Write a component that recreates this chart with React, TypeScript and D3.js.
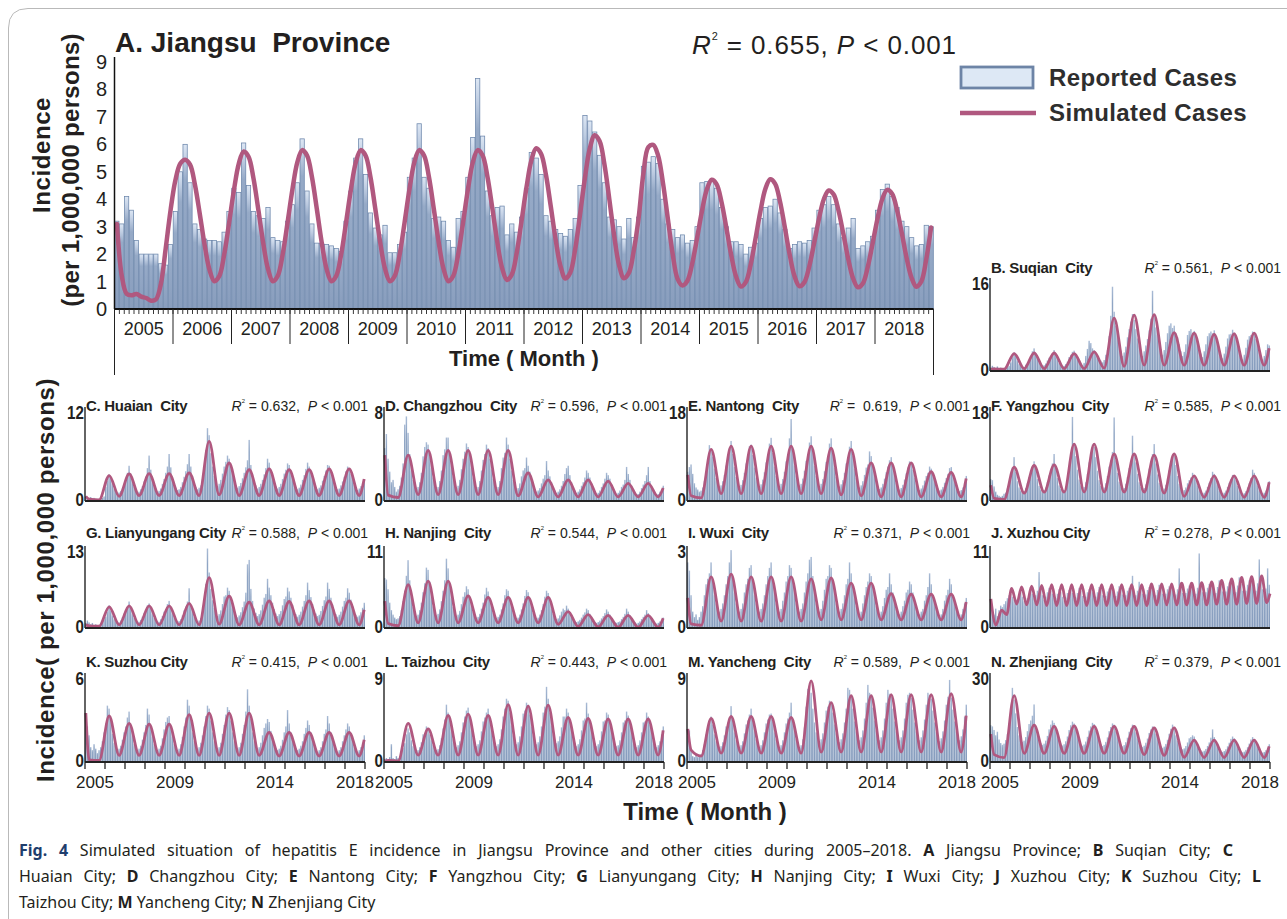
import React from "react";
import * as d3 from "d3";

// ---------------- DATA ----------------
const years = [2005, 2006, 2007, 2008, 2009, 2010, 2011, 2012, 2013, 2014, 2015, 2016, 2017, 2018];
const mainYTicks = [0, 1, 2, 3, 4, 5, 6, 7, 8, 9];
const smallTickYears = [2005, 2009, 2014, 2018];

const mainReported = [
  3.2, 3.1, 4.1, 3.6, 2.5, 2.0, 2.0, 2.0, 2.0, 1.65, 1.6, 2.35,
  3.55, 5.0, 6.0, 4.6, 3.1, 2.9, 2.55, 2.5, 2.5, 2.45, 2.8, 3.55,
  4.4, 4.25, 6.05, 4.5, 3.55, 3.4, 3.3, 3.7, 2.6, 2.5, 2.45, 3.2,
  3.8, 4.6, 6.2, 4.3, 3.1, 2.4, 2.4, 2.35, 2.3, 2.2, 2.1, 3.2,
  4.3, 5.5, 6.2, 4.9, 3.5, 2.95, 2.7, 3.05, 2.05, 2.05, 2.35, 2.8,
  4.8, 5.5, 6.75, 4.8, 4.4, 3.3, 3.35, 3.2, 2.5, 2.25, 3.3, 3.55,
  4.8, 6.25, 8.4, 6.3, 4.3, 3.4, 3.7, 3.75, 2.7, 3.1, 2.8, 3.35,
  4.4, 5.7, 5.5, 4.9, 3.4, 3.2, 2.9, 2.75, 2.65, 2.9, 3.3, 4.5,
  7.05, 6.85, 6.45, 5.6, 4.6, 3.35, 3.25, 3.0, 2.55, 3.3, 2.6, 3.35,
  5.2, 5.35, 5.55, 5.3, 4.0, 3.1, 2.9, 2.6, 2.7, 2.4, 2.5, 3.0,
  4.6, 4.65, 4.65, 4.4, 3.7, 3.0, 2.45, 2.45, 2.35, 2.0, 2.25, 2.4,
  3.3, 3.7, 3.75, 4.0, 3.5, 2.9, 2.2, 2.35, 2.45, 2.4, 2.5, 2.95,
  3.6, 3.8, 4.1, 3.8, 3.1, 2.6, 2.95, 3.3, 2.2, 2.3, 2.45, 2.65,
  3.6, 4.35, 4.55, 4.1, 3.7, 3.2, 3.0, 2.6, 2.3, 2.35, 3.05, 3.0,
];

const mainSimulated = [
  3.1, 1.2, 0.55, 0.5, 0.55, 0.45, 0.4, 0.3, 0.35, 0.9, 2.2, 3.6,
  4.7, 5.3, 5.44, 5.26, 4.53, 3.46, 2.32, 1.42, 1.01, 1.2, 1.98, 3.13,
  4.33, 5.3, 5.74, 5.55, 4.77, 3.62, 2.41, 1.45, 1.01, 1.21, 1.99, 3.15,
  4.36, 5.34, 5.79, 5.59, 4.81, 3.65, 2.43, 1.46, 1.01, 1.21, 1.99, 3.15,
  4.36, 5.34, 5.79, 5.59, 4.81, 3.65, 2.43, 1.46, 1.01, 1.21, 1.99, 3.15,
  4.36, 5.34, 5.79, 5.59, 4.81, 3.65, 2.43, 1.46, 1.01, 1.21, 1.99, 3.15,
  4.36, 5.34, 5.79, 5.6, 4.82, 3.67, 2.46, 1.5, 1.06, 1.26, 2.04, 3.21,
  4.42, 5.41, 5.86, 5.66, 4.89, 3.73, 2.52, 1.55, 1.11, 1.33, 2.18, 3.45,
  4.78, 5.85, 6.33, 6.12, 5.27, 4.0, 2.66, 1.6, 1.12, 1.31, 2.11, 3.3,
  4.95, 5.9, 5.98, 5.6, 4.6, 3.3, 2.0, 1.1, 0.86, 1.02, 1.65, 2.58,
  3.56, 4.35, 4.71, 4.55, 3.91, 2.97, 1.97, 1.18, 0.82, 0.98, 1.62, 2.57,
  3.56, 4.37, 4.73, 4.57, 3.93, 2.98, 1.98, 1.19, 0.83, 0.97, 1.54, 2.39,
  3.28, 4.0, 4.32, 4.18, 3.6, 2.74, 1.83, 1.12, 0.79, 0.93, 1.52, 2.38,
  3.28, 4.01, 4.34, 4.2, 3.62, 2.76, 1.85, 1.14, 0.81, 1.0, 1.8, 2.97,
];

// small panels: B..N
const panelKeys = ["B", "C", "D", "E", "F", "G", "H", "I", "J", "K", "L", "M", "N"];
const panelTitles = [
  "B. Suqian  City", "C. Huaian  City", "D. Changzhou  City", "E. Nantong  City",
  "F. Yangzhou  City", "G. Lianyungang City", "H. Nanjing  City", "I. Wuxi  City",
  "J. Xuzhou City", "K. Suzhou City", "L. Taizhou  City", "M. Yancheng  City", "N. Zhenjiang  City",
];
const panelR2 = ["0.561", "0.632", "0.596", "0.619", "0.585", "0.588", "0.544", "0.371", "0.278", "0.415", "0.443", "0.589", "0.379"];
const panelYMax = [16, 12, 8, 18, 18, 13, 11, 3, 11, 6, 9, 9, 30];

const suqianReported = [
  0.6, 0.9, 0.7, 0.5, 0.8, 0.4, 0.6, 0.3, 0.5, 0.4, 0.7, 0.9,
  1.5, 2.4, 3.2, 2.6, 1.8, 1.2, 1.0, 0.8, 0.7, 1.1, 1.4, 1.9,
  2.6, 3.4, 3.9, 3.0, 2.2, 1.6, 1.1, 0.9, 1.0, 1.3, 1.8, 2.3,
  2.5, 3.1, 3.6, 2.7, 2.0, 1.4, 1.2, 0.8, 0.9, 1.2, 1.6, 2.4,
  2.8, 3.3, 3.5, 2.9, 2.1, 1.7, 1.3, 1.0, 1.4, 2.6, 3.8, 5.2,
  4.8, 3.9, 3.6, 3.0, 2.4, 2.0, 1.8, 1.5, 1.9, 2.8, 3.6, 6.0,
  9.5, 14.5, 10.2, 7.8, 6.0, 4.5, 3.5, 2.6, 3.2, 4.2, 5.8, 7.2,
  8.5, 9.8, 8.8, 7.2, 5.6, 4.4, 3.4, 2.6, 3.4, 4.4, 5.5, 7.0,
  9.0, 13.8, 9.5, 7.5, 6.2, 5.0, 3.8, 2.8, 3.6, 5.0, 6.5, 7.8,
  8.2, 7.4, 7.8, 6.5, 5.8, 4.6, 3.4, 2.6, 3.3, 4.6, 6.2, 6.9,
  7.2, 6.6, 6.9, 6.0, 5.2, 4.0, 3.0, 2.4, 3.4, 4.6, 6.0, 6.5,
  6.8, 6.5, 7.0, 5.9, 5.0, 3.8, 2.8, 2.2, 3.0, 4.2, 5.6, 6.3,
  6.4, 7.1, 6.6, 5.7, 4.8, 3.6, 2.6, 2.0, 2.8, 4.0, 5.4, 6.0,
  6.2, 6.8, 6.5, 5.5, 4.6, 3.4, 2.5, 2.0, 2.6, 3.6, 4.6, 4.4,
];
const suqianSimPeaks = [0.35, 3.0, 3.1, 3.1, 3.0, 3.3, 9.1, 9.6, 9.7, 6.6, 6.5, 6.3, 6.4, 6.5];
const suqianSimTroughs = [0.3, 0.4, 0.4, 0.4, 0.4, 0.5, 0.8, 1.0, 1.0, 1.0, 1.0, 1.0, 1.0, 1.0];
const suqianSimStartEnd = [0.3, 3.9];

const huaianReported = [
  0.6, 0.5, 0.4, 0.5, 0.3, 0.4, 0.3, 0.2, 0.3, 0.2, 0.4, 0.6,
  1.8, 2.6, 3.4, 3.0, 2.2, 1.6, 1.2, 1.0, 1.1, 1.3, 1.6, 2.2,
  2.8, 3.6, 4.5, 3.5, 2.6, 1.8, 1.3, 1.1, 1.2, 1.5, 1.9, 2.5,
  3.1, 4.2, 5.8, 4.0, 2.8, 2.0, 1.6, 1.2, 1.3, 1.6, 2.2, 2.8,
  3.6, 4.4, 6.0, 4.3, 3.0, 2.1, 1.7, 1.4, 1.5, 1.8, 2.4, 3.1,
  3.8, 4.7, 6.0, 4.4, 3.2, 2.3, 1.8, 1.5, 1.7, 2.0, 2.8, 4.4,
  6.5, 9.3, 8.4, 6.1, 4.4, 3.2, 2.4, 1.9, 2.2, 2.7, 3.5, 4.4,
  5.0, 5.8, 5.4, 4.5, 3.5, 2.6, 2.0, 1.7, 1.9, 2.3, 2.9, 3.6,
  4.3, 5.2, 7.8, 4.6, 3.4, 2.5, 2.0, 1.6, 1.8, 2.2, 2.7, 3.4,
  4.2, 5.4, 4.9, 4.0, 3.1, 2.4, 1.9, 1.6, 1.8, 2.2, 2.8, 3.5,
  4.0, 4.8, 4.6, 3.9, 3.0, 2.3, 1.8, 1.5, 1.7, 2.1, 2.7, 3.3,
  4.1, 4.9, 4.4, 3.8, 3.0, 2.2, 1.8, 1.5, 1.7, 2.0, 2.6, 3.2,
  3.9, 4.6, 4.5, 3.7, 2.9, 2.2, 1.7, 1.5, 1.6, 2.0, 2.5, 3.1,
  3.8, 4.4, 4.2, 3.5, 2.8, 2.1, 1.7, 1.4, 1.6, 1.9, 2.2, 2.6,
];
const huaianSimPeaks = [0.25, 3.25, 3.45, 3.5, 3.5, 3.6, 7.6, 4.85, 4.0, 4.1, 4.0, 4.0, 4.1, 4.1];
const huaianSimTroughs = [0.15, 0.6, 0.7, 0.7, 0.7, 0.7, 0.8, 0.7, 0.7, 0.7, 0.7, 0.7, 0.7, 0.7];
const huaianSimStartEnd = [0.6, 2.8];

const changzhouReported = [
  4.5, 5.7, 3.6, 2.5, 1.6, 1.8, 1.2, 0.8, 1.0, 1.3, 2.0, 3.2,
  6.5, 7.2, 5.8, 4.0, 2.6, 1.8, 1.3, 1.0, 1.2, 1.6, 2.4, 3.8,
  4.6, 5.0, 4.8, 3.8, 2.8, 2.0, 1.4, 1.0, 1.2, 1.7, 2.6, 3.9,
  4.4, 5.4, 5.4, 4.1, 3.0, 2.1, 1.4, 1.1, 1.3, 1.8, 2.7, 3.6,
  4.2, 4.9, 4.6, 3.9, 2.8, 2.0, 1.3, 1.0, 1.2, 1.7, 2.6, 3.5,
  4.0, 4.8, 4.5, 3.6, 2.7, 1.9, 1.3, 1.0, 1.2, 1.7, 2.8, 3.7,
  4.1, 5.4, 4.8, 3.6, 2.6, 1.8, 1.2, 0.9, 1.1, 1.5, 2.1, 2.6,
  2.8, 3.7, 3.0, 2.5, 1.8, 1.3, 1.0, 0.8, 0.9, 1.1, 1.5, 1.9,
  2.2, 3.4, 2.6, 2.1, 1.6, 1.2, 0.9, 0.7, 0.8, 1.0, 1.3, 1.7,
  2.3, 2.8, 3.0, 2.2, 1.6, 1.2, 0.9, 0.7, 0.8, 1.0, 1.3, 1.6,
  2.0, 2.6, 2.4, 2.0, 1.5, 1.1, 0.8, 0.6, 0.7, 0.9, 1.2, 1.5,
  1.9, 2.4, 2.2, 1.9, 1.4, 1.0, 0.8, 0.6, 0.7, 0.9, 1.2, 1.4,
  1.8, 2.9, 2.3, 1.8, 1.3, 1.0, 0.7, 0.6, 0.6, 0.8, 1.1, 1.4,
  1.7, 2.2, 2.9, 1.7, 1.2, 0.9, 0.7, 0.5, 0.6, 0.8, 1.0, 1.3,
];
const changzhouSimPeaks = [0.5, 3.9, 4.3, 4.3, 4.3, 4.3, 4.3, 2.4, 1.8, 1.8, 1.8, 1.7, 1.5, 1.5];
const changzhouSimTroughs = [0.3, 0.55, 0.55, 0.55, 0.55, 0.55, 0.45, 0.35, 0.35, 0.35, 0.35, 0.35, 0.35, 0.35];
const changzhouSimStartEnd = [3.9, 1.1];

const nantongReported = [
  5.6, 6.5, 7.0, 5.2, 3.4, 2.6, 2.2, 1.8, 2.0, 2.6, 3.8, 5.2,
  7.8, 10.7, 10.0, 8.5, 6.2, 4.4, 3.4, 2.6, 3.0, 3.8, 5.0, 6.8,
  8.5, 10.2, 11.5, 9.0, 6.5, 4.6, 3.5, 2.8, 3.1, 4.0, 5.4, 7.2,
  8.2, 10.5, 10.8, 8.8, 6.4, 4.5, 3.5, 2.8, 3.2, 4.1, 5.5, 7.4,
  8.8, 11.0, 12.1, 9.2, 6.6, 4.8, 3.6, 2.9, 3.3, 4.2, 5.6, 7.6,
  9.0, 12.0, 15.7, 9.6, 6.8, 4.9, 3.7, 3.0, 3.3, 4.3, 5.8, 7.7,
  8.9, 11.2, 12.4, 9.4, 6.7, 4.8, 3.6, 2.9, 3.3, 4.2, 5.7, 7.5,
  8.6, 11.0, 12.0, 9.0, 6.4, 4.6, 3.5, 2.8, 3.2, 4.0, 5.4, 7.2,
  8.4, 10.4, 11.5, 8.7, 6.2, 4.4, 3.3, 2.6, 3.0, 3.8, 5.0, 6.4,
  7.0, 9.5, 8.6, 6.8, 5.0, 3.7, 2.8, 2.3, 2.6, 3.3, 4.3, 5.5,
  6.6, 7.8, 8.4, 6.4, 4.8, 3.5, 2.7, 2.2, 2.5, 3.1, 4.1, 5.3,
  6.4, 7.6, 7.2, 6.0, 4.5, 3.4, 2.6, 2.1, 2.4, 3.0, 3.9, 4.8,
  5.4, 6.6, 6.2, 5.1, 3.9, 3.0, 2.4, 2.0, 2.2, 2.7, 3.5, 4.4,
  5.2, 6.3, 6.5, 4.9, 3.8, 2.9, 2.3, 1.9, 2.1, 2.6, 3.4, 4.8,
];
const nantongSimPeaks = [1.0, 9.9, 10.5, 10.5, 10.5, 10.5, 10.5, 10.1, 9.9, 7.3, 7.3, 7.3, 5.6, 5.5];
const nantongSimTroughs = [0.6, 1.4, 1.4, 1.4, 1.4, 1.4, 1.4, 1.2, 1.0, 0.8, 0.8, 0.8, 0.8, 0.8];
const nantongSimStartEnd = [5.0, 4.3];

const yangzhouReported = [
  4.2, 4.0, 2.8, 1.8, 1.2, 1.0, 0.8, 1.0, 1.4, 1.6, 2.4, 3.4,
  4.8, 6.4, 8.4, 5.6, 3.8, 2.6, 2.0, 1.7, 1.9, 2.5, 3.4, 4.6,
  5.4, 6.6, 7.6, 6.4, 4.2, 2.9, 2.2, 1.8, 2.0, 2.6, 3.6, 4.9,
  5.6, 7.2, 9.0, 6.6, 4.4, 3.0, 2.3, 1.9, 2.1, 2.8, 4.0, 6.0,
  8.4, 16.1, 11.0, 8.6, 6.0, 4.1, 3.0, 2.4, 2.7, 3.6, 5.2, 7.4,
  9.0, 10.8, 10.4, 8.4, 5.8, 4.0, 2.9, 2.3, 2.6, 3.4, 4.8, 6.6,
  7.8, 9.4, 16.0, 7.8, 5.4, 3.7, 2.8, 2.2, 2.5, 3.3, 4.6, 6.3,
  7.6, 12.5, 9.0, 7.4, 5.2, 3.6, 2.7, 2.2, 2.5, 3.2, 4.5, 6.2,
  7.6, 9.0, 10.9, 7.2, 5.1, 3.5, 2.6, 2.1, 2.4, 3.1, 4.3, 5.9,
  7.4, 8.8, 8.6, 6.9, 4.8, 3.3, 2.4, 1.9, 2.1, 2.6, 3.4, 4.0,
  4.5, 5.4, 5.0, 4.1, 3.0, 2.2, 1.7, 1.4, 1.6, 2.0, 2.7, 3.5,
  4.4, 5.6, 5.2, 4.2, 3.1, 2.3, 1.7, 1.4, 1.6, 2.0, 2.7, 3.5,
  4.2, 5.0, 4.8, 4.0, 2.9, 2.1, 1.6, 1.3, 1.5, 1.9, 2.6, 3.4,
  4.4, 6.0, 5.4, 4.2, 3.0, 2.2, 1.7, 1.4, 1.6, 2.0, 2.8, 3.8,
];
const yangzhouSimPeaks = [0.5, 6.5, 6.8, 6.9, 10.9, 10.9, 9.0, 9.0, 8.8, 9.0, 4.8, 4.8, 4.8, 4.8];
const yangzhouSimTroughs = [0.3, 1.5, 1.7, 1.7, 1.7, 1.7, 1.7, 1.7, 1.5, 0.9, 0.7, 0.7, 0.7, 0.7];
const yangzhouSimStartEnd = [3.0, 3.6];

const lianyungangReported = [
  0.8, 1.2, 0.9, 0.6, 0.8, 0.5, 0.6, 0.4, 0.5, 0.6, 0.9, 1.4,
  1.8, 2.6, 3.6, 2.8, 2.0, 1.4, 1.0, 0.8, 0.9, 1.2, 1.7, 2.3,
  2.6, 3.3, 4.2, 3.2, 2.2, 1.6, 1.1, 0.9, 1.0, 1.3, 1.8, 2.4,
  2.8, 3.6, 3.9, 3.1, 2.2, 1.6, 1.1, 0.9, 1.0, 1.4, 1.9, 2.6,
  3.0, 3.8, 4.3, 3.3, 2.3, 1.7, 1.2, 0.9, 1.1, 1.4, 2.0, 2.8,
  3.4, 4.2, 6.3, 3.6, 2.6, 1.8, 1.3, 1.0, 1.2, 1.6, 2.4, 4.6,
  7.0, 12.6, 8.8, 6.2, 4.4, 3.2, 2.4, 1.9, 2.2, 2.8, 3.8, 5.0,
  5.2, 6.4, 5.9, 4.8, 3.6, 2.7, 2.1, 1.7, 2.0, 2.5, 3.3, 4.2,
  5.6, 10.1, 10.8, 6.2, 4.3, 3.1, 2.4, 1.9, 2.2, 2.8, 3.7, 4.8,
  5.4, 7.8, 6.4, 5.2, 4.0, 3.0, 2.3, 1.9, 2.2, 2.7, 3.6, 4.6,
  5.0, 6.4, 5.8, 4.8, 3.7, 2.8, 2.2, 1.8, 2.1, 2.6, 3.4, 4.3,
  5.2, 7.2, 6.0, 4.9, 3.8, 2.9, 2.3, 1.9, 2.1, 2.7, 3.5, 4.4,
  5.0, 7.2, 6.2, 4.8, 3.7, 2.9, 2.2, 1.8, 2.1, 2.6, 3.4, 4.3,
  4.8, 6.3, 5.6, 4.5, 3.5, 2.7, 2.1, 1.8, 2.0, 2.5, 3.2, 4.0,
];
const lianyungangSimPeaks = [0.35, 3.35, 3.5, 3.5, 3.5, 3.9, 8.0, 5.05, 4.1, 4.3, 4.2, 4.3, 4.3, 4.3];
const lianyungangSimTroughs = [0.3, 0.5, 0.5, 0.5, 0.5, 0.5, 0.6, 0.5, 0.5, 0.5, 0.5, 0.5, 0.5, 0.5];
const lianyungangSimStartEnd = [0.5, 2.9];

const nanjingReported = [
  6.7, 6.5, 5.2, 3.4, 2.4, 1.8, 1.4, 1.2, 1.3, 1.6, 2.4, 3.6,
  5.0, 7.0, 9.1, 6.4, 4.2, 2.8, 2.0, 1.6, 1.8, 2.4, 3.4, 4.8,
  6.0, 8.1, 7.8, 6.2, 4.2, 2.9, 2.1, 1.7, 1.9, 2.5, 3.6, 5.0,
  6.4, 9.3, 8.0, 6.0, 4.0, 2.8, 2.0, 1.6, 1.8, 2.3, 3.2, 4.2,
  4.8, 5.6, 5.2, 4.2, 3.0, 2.2, 1.7, 1.4, 1.5, 1.9, 2.6, 3.4,
  4.5, 5.4, 4.9, 4.0, 2.9, 2.1, 1.6, 1.3, 1.5, 1.8, 2.5, 3.3,
  4.4, 5.2, 5.0, 3.9, 2.8, 2.1, 1.6, 1.3, 1.4, 1.8, 2.5, 3.3,
  4.3, 5.1, 4.8, 3.8, 2.8, 2.0, 1.5, 1.3, 1.4, 1.8, 2.4, 3.2,
  4.2, 5.0, 4.7, 3.6, 2.6, 1.9, 1.5, 1.2, 1.3, 1.7, 2.2, 2.6,
  2.4, 3.0, 2.6, 2.1, 1.6, 1.2, 0.9, 0.8, 0.9, 1.1, 1.4, 1.8,
  2.1, 2.6, 2.4, 1.9, 1.4, 1.1, 0.8, 0.7, 0.8, 1.0, 1.3, 1.6,
  2.0, 2.5, 2.2, 1.8, 1.3, 1.0, 0.8, 0.7, 0.8, 0.9, 1.2, 1.5,
  1.9, 2.6, 2.2, 1.7, 1.3, 1.0, 0.8, 0.6, 0.7, 0.9, 1.2, 1.5,
  1.8, 2.4, 2.0, 1.6, 1.2, 0.9, 0.7, 0.6, 0.7, 0.9, 1.1, 1.4,
];
const nanjingSimPeaks = [0.6, 5.8, 6.3, 6.3, 4.3, 4.1, 4.1, 4.1, 4.1, 2.2, 1.8, 1.7, 1.7, 1.7];
const nanjingSimTroughs = [0.3, 0.7, 0.7, 0.7, 0.7, 0.7, 0.7, 0.7, 0.5, 0.2, 0.15, 0.1, 0.1, 0.1];
const nanjingSimStartEnd = [3.6, 1.3];

const wuxiReported = [
  2.4, 2.1, 1.2, 0.6, 0.4, 0.5, 0.3, 0.4, 0.6, 0.8, 1.2, 1.6,
  1.8, 2.0, 2.4, 1.8, 1.2, 0.9, 0.7, 0.6, 0.7, 0.9, 1.2, 1.6,
  1.9, 2.4, 2.85, 1.9, 1.3, 0.9, 0.7, 0.6, 0.7, 0.9, 1.3, 1.6,
  1.8, 2.2, 2.3, 1.8, 1.2, 0.9, 0.7, 0.6, 0.7, 0.9, 1.2, 1.6,
  1.9, 2.2, 2.4, 1.8, 1.3, 0.9, 0.7, 0.6, 0.7, 1.0, 1.3, 1.7,
  1.9, 2.3, 2.2, 1.7, 1.3, 0.9, 0.7, 0.6, 0.7, 0.9, 1.3, 1.7,
  2.0, 2.5, 2.6, 1.9, 1.3, 0.9, 0.7, 0.6, 0.7, 1.0, 1.4, 1.8,
  1.9, 2.3, 2.2, 1.8, 1.2, 0.9, 0.7, 0.6, 0.7, 0.9, 1.2, 1.6,
  1.8, 2.4, 2.0, 1.6, 1.2, 0.8, 0.6, 0.5, 0.6, 0.9, 1.2, 1.5,
  1.7, 2.0, 1.9, 1.5, 1.1, 0.8, 0.6, 0.5, 0.6, 0.8, 1.1, 1.4,
  1.5, 2.0, 1.6, 1.3, 1.0, 0.7, 0.6, 0.5, 0.6, 0.8, 1.0, 1.3,
  1.4, 1.7, 1.6, 1.3, 0.9, 0.7, 0.5, 0.5, 0.6, 0.7, 1.0, 1.2,
  1.5, 2.0, 1.6, 1.2, 0.9, 0.7, 0.5, 0.4, 0.5, 0.7, 1.0, 1.2,
  1.4, 1.8, 1.6, 1.2, 0.9, 0.7, 0.5, 0.4, 0.5, 0.7, 0.9, 1.1,
];
const wuxiSimPeaks = [0.15, 1.87, 1.97, 1.87, 1.87, 1.87, 1.8, 1.83, 1.64, 1.64, 1.26, 1.24, 1.24, 1.24];
const wuxiSimTroughs = [0.1, 0.25, 0.25, 0.25, 0.25, 0.25, 0.3, 0.3, 0.3, 0.3, 0.3, 0.3, 0.3, 0.3];
const wuxiSimStartEnd = [1.1, 0.95];

const xuzhouReported = [
  3.4, 2.2, 1.8, 2.6, 1.6, 2.4, 3.0, 2.8, 3.2, 3.6, 4.0, 4.4,
  4.6, 4.2, 3.8, 3.4, 3.9, 4.4, 4.8, 4.2, 3.6, 3.4, 4.0, 4.6,
  5.2, 4.6, 4.0, 4.4, 5.0, 7.5, 5.2, 4.4, 3.8, 4.2, 4.8, 5.4,
  5.0, 4.6, 4.1, 4.0, 4.6, 5.2, 4.8, 4.2, 3.7, 4.1, 4.7, 5.1,
  5.2, 4.7, 4.2, 4.1, 4.7, 5.4, 5.0, 4.3, 3.8, 4.2, 4.8, 5.2,
  5.4, 4.8, 4.3, 4.2, 4.8, 5.5, 5.1, 4.4, 3.9, 4.3, 4.9, 5.3,
  5.5, 4.9, 4.4, 4.3, 4.9, 5.6, 5.2, 4.5, 4.0, 4.4, 5.0, 5.4,
  5.6, 7.0, 4.5, 4.4, 5.0, 6.2, 5.3, 4.6, 4.1, 4.5, 5.1, 5.5,
  5.7, 5.1, 4.6, 4.4, 5.1, 5.8, 5.4, 4.6, 4.1, 4.6, 5.2, 5.6,
  5.8, 5.2, 4.7, 4.5, 5.2, 8.0, 5.5, 4.7, 4.2, 4.7, 5.3, 5.7,
  6.0, 5.3, 4.8, 4.6, 5.4, 10.0, 5.6, 4.8, 4.3, 4.8, 5.4, 5.9,
  6.1, 5.4, 4.9, 4.7, 5.5, 6.4, 5.7, 4.9, 4.4, 4.9, 5.6, 6.1,
  6.3, 5.6, 5.0, 4.8, 5.7, 6.8, 5.9, 5.0, 4.5, 5.0, 5.8, 6.4,
  6.6, 5.8, 5.2, 5.0, 6.0, 9.2, 6.2, 5.2, 4.7, 5.3, 8.0, 5.8,
];
// Xuzhou simulation is semi-annual: lead-in values, then 26 half-year peaks and troughs
const xuzhouSimLead = [3.9, 0.4, 2.4, 1.8];
const xuzhouSimPeaks = [5.3, 5.5, 5.6, 5.7, 5.8, 5.8, 5.8, 5.8, 5.8, 5.8, 5.8, 5.8, 5.8, 5.8, 5.9, 5.9, 5.9, 6.0, 6.0, 6.1, 6.2, 6.4, 6.6, 6.8, 6.9, 7.0];
const xuzhouSimTroughs = [3.2, 3.1, 3.1, 3.0, 3.0, 3.0, 3.0, 3.0, 3.0, 3.0, 3.0, 3.0, 3.0, 3.0, 3.1, 3.1, 3.1, 3.1, 3.1, 3.1, 3.2, 3.2, 3.2, 3.3, 3.3, 3.4];
const xuzhouSimEnd = 4.6;

const suzhouReported = [
  2.6, 2.4, 1.8, 1.0, 0.8, 1.2, 0.9, 0.6, 0.8, 1.0, 1.4, 2.0,
  2.6, 3.8, 3.6, 2.8, 1.9, 1.3, 1.0, 0.8, 0.9, 1.1, 1.5, 2.0,
  2.4, 3.0, 3.4, 2.5, 1.8, 1.2, 0.9, 0.8, 0.9, 1.1, 1.5, 2.0,
  2.5, 3.6, 3.2, 2.4, 1.7, 1.2, 0.9, 0.8, 0.9, 1.1, 1.6, 2.2,
  2.7, 3.0, 3.1, 2.4, 1.7, 1.2, 0.9, 0.8, 0.9, 1.2, 1.7, 2.4,
  3.0, 4.2, 3.8, 2.9, 2.0, 1.4, 1.0, 0.9, 1.0, 1.3, 1.8, 2.4,
  3.1, 3.8, 3.6, 2.8, 2.0, 1.4, 1.0, 0.9, 1.0, 1.3, 1.9, 2.5,
  3.2, 3.7, 3.5, 2.8, 2.0, 1.4, 1.0, 0.9, 1.0, 1.3, 1.9, 2.5,
  3.4, 4.9, 3.8, 2.9, 2.0, 1.4, 1.0, 0.9, 1.0, 1.3, 1.8, 2.3,
  2.6, 2.9, 2.7, 2.1, 1.6, 1.2, 0.9, 0.8, 0.9, 1.1, 1.5, 2.0,
  2.4, 3.5, 2.6, 2.0, 1.5, 1.1, 0.9, 0.8, 0.9, 1.1, 1.4, 1.9,
  2.3, 2.8, 2.5, 2.0, 1.5, 1.1, 0.8, 0.7, 0.8, 1.0, 1.4, 1.9,
  2.2, 3.1, 2.6, 2.0, 1.5, 1.1, 0.8, 0.7, 0.8, 1.0, 1.4, 1.8,
  2.2, 2.6, 2.4, 1.9, 1.4, 1.0, 0.8, 0.7, 0.8, 1.0, 1.3, 1.8,
];
const suzhouSimPeaks = [0.15, 3.1, 2.6, 2.55, 2.55, 3.2, 3.3, 3.3, 3.3, 2.0, 2.0, 2.0, 2.0, 2.0];
const suzhouSimTroughs = [0.1, 0.45, 0.45, 0.45, 0.45, 0.45, 0.45, 0.45, 0.45, 0.4, 0.4, 0.4, 0.4, 0.4];
const suzhouSimStartEnd = [3.3, 1.5];

const taizhouReported = [
  0.3, 0.4, 0.2, 0.5, 1.8, 0.4, 0.3, 0.6, 0.4, 0.6, 0.9, 1.4,
  1.9, 2.8, 3.4, 3.0, 2.2, 1.6, 1.3, 1.1, 1.2, 1.5, 2.0, 2.8,
  2.9, 3.6, 3.4, 2.8, 2.2, 1.7, 1.4, 1.2, 1.3, 1.7, 2.4, 3.4,
  4.3, 5.8, 5.0, 4.2, 3.1, 2.3, 1.8, 1.5, 1.7, 2.1, 3.0, 4.0,
  4.6, 5.2, 5.5, 4.4, 3.2, 2.4, 1.9, 1.6, 1.8, 2.2, 3.1, 4.1,
  4.5, 5.0, 5.4, 4.3, 3.2, 2.4, 1.9, 1.6, 1.8, 2.3, 3.3, 4.6,
  5.4, 6.4, 6.2, 5.0, 3.7, 2.7, 2.1, 1.8, 2.0, 2.6, 3.6, 4.9,
  5.2, 6.0, 5.8, 4.8, 3.6, 2.7, 2.1, 1.8, 2.0, 2.6, 3.6, 5.0,
  5.6, 7.6, 6.4, 5.0, 3.7, 2.8, 2.2, 1.9, 2.1, 2.6, 3.5, 4.6,
  4.6, 5.4, 5.0, 4.1, 3.1, 2.4, 1.9, 1.6, 1.8, 2.3, 3.2, 4.2,
  4.4, 6.0, 4.9, 4.0, 3.0, 2.3, 1.9, 1.6, 1.8, 2.2, 3.1, 4.1,
  4.2, 5.0, 4.8, 3.9, 2.9, 2.3, 1.8, 1.6, 1.7, 2.2, 3.0, 4.0,
  4.2, 5.1, 4.7, 3.9, 2.9, 2.2, 1.8, 1.5, 1.7, 2.2, 3.0, 4.0,
  4.1, 5.0, 4.6, 3.8, 2.9, 2.2, 1.8, 1.5, 1.7, 2.1, 2.8, 3.6,
];
const taizhouSimPeaks = [0.15, 3.9, 3.35, 4.7, 4.85, 4.7, 5.8, 5.65, 5.75, 4.5, 4.4, 4.35, 4.35, 4.35];
const taizhouSimTroughs = [0.1, 0.7, 0.7, 0.7, 0.7, 0.7, 0.7, 0.7, 0.7, 0.7, 0.7, 0.7, 0.7, 0.7];
const taizhouSimStartEnd = [0.1, 3.2];

const yanchengReported = [
  2.6, 3.2, 1.4, 0.6, 0.5, 0.7, 0.5, 0.6, 0.8, 1.2, 1.8, 2.8,
  3.6, 4.2, 4.6, 3.8, 2.8, 2.1, 1.7, 1.4, 1.6, 2.0, 2.7, 3.6,
  4.0, 4.5, 5.65, 4.2, 3.0, 2.2, 1.8, 1.5, 1.7, 2.1, 2.9, 3.8,
  4.2, 4.8, 5.4, 4.2, 3.1, 2.3, 1.8, 1.5, 1.7, 2.2, 3.0, 3.9,
  4.3, 4.8, 4.9, 4.1, 3.0, 2.3, 1.8, 1.5, 1.7, 2.2, 3.0, 3.9,
  4.4, 5.0, 6.0, 4.2, 3.1, 2.3, 1.8, 1.5, 1.7, 2.3, 3.5, 5.6,
  7.4, 7.8, 7.0, 5.4, 4.0, 3.0, 2.4, 2.0, 2.3, 2.9, 4.0, 5.2,
  5.6, 6.2, 6.0, 5.0, 3.8, 2.9, 2.3, 2.0, 2.3, 2.9, 4.0, 5.4,
  7.5, 7.3, 6.6, 5.4, 4.1, 3.1, 2.5, 2.2, 2.5, 3.2, 4.4, 6.0,
  7.8, 7.0, 6.8, 5.5, 4.2, 3.2, 2.6, 2.2, 2.5, 3.2, 4.4, 6.0,
  7.3, 6.9, 6.6, 5.4, 4.1, 3.1, 2.5, 2.2, 2.5, 3.2, 4.4, 6.0,
  6.8, 7.0, 6.5, 5.3, 4.0, 3.1, 2.5, 2.2, 2.5, 3.2, 4.3, 5.8,
  7.0, 6.8, 6.4, 5.2, 4.0, 3.0, 2.5, 2.1, 2.4, 3.1, 4.2, 5.8,
  6.6, 8.3, 6.5, 5.3, 4.1, 3.1, 2.5, 2.2, 2.6, 3.3, 4.6, 5.8,
];
const yanchengSimPeaks = [1.2, 4.4, 4.6, 4.6, 4.6, 4.5, 8.2, 6.0, 6.7, 6.7, 6.8, 6.8, 6.8, 6.9];
const yanchengSimTroughs = [0.6, 0.9, 0.9, 0.9, 0.9, 0.9, 1.0, 1.0, 1.0, 1.0, 1.0, 1.0, 1.0, 1.0];
const yanchengSimStartEnd = [3.35, 4.7];

const zhenjiangReported = [
  12.4, 12.0, 10.8, 9.0, 10.2, 7.6, 6.4, 5.8, 6.2, 7.4, 9.4, 13.0,
  18.0, 25.0, 21.0, 16.4, 11.8, 9.0, 7.6, 6.8, 7.2, 8.4, 10.4, 12.8,
  14.0, 15.6, 19.4, 11.4, 9.0, 7.4, 6.4, 5.8, 6.2, 7.2, 8.8, 11.0,
  12.6, 14.0, 13.2, 11.0, 8.8, 7.2, 6.2, 5.6, 6.0, 7.0, 8.6, 10.8,
  12.4, 13.6, 13.0, 10.8, 8.6, 7.0, 6.0, 5.5, 5.9, 6.9, 8.5, 10.6,
  12.0, 13.2, 12.8, 10.6, 8.5, 6.9, 6.0, 5.4, 5.8, 6.8, 8.3, 10.4,
  11.8, 13.0, 12.6, 10.4, 8.3, 6.8, 5.9, 5.3, 5.7, 6.7, 8.2, 10.2,
  11.4, 12.6, 12.2, 10.0, 8.0, 6.6, 5.7, 5.1, 5.5, 6.5, 7.9, 9.8,
  11.0, 12.0, 11.6, 9.6, 7.7, 6.3, 5.4, 4.8, 5.2, 6.1, 7.5, 9.5,
  11.2, 12.6, 11.0, 9.0, 7.2, 5.8, 4.9, 4.3, 4.6, 5.4, 6.6, 8.0,
  8.4, 9.0, 8.6, 7.2, 5.7, 4.6, 3.9, 3.5, 3.8, 4.4, 5.4, 6.6,
  8.2, 11.0, 8.4, 7.0, 5.6, 4.5, 3.8, 3.4, 3.7, 4.3, 5.3, 6.5,
  7.8, 8.6, 8.0, 6.7, 5.3, 4.3, 3.7, 3.3, 3.5, 4.1, 5.0, 6.2,
  7.6, 8.4, 7.8, 6.5, 5.2, 4.2, 3.6, 3.2, 3.4, 4.0, 4.8, 6.0,
];
const zhenjiangSimPeaks = [2.5, 22.4, 12.4, 12.0, 12.2, 12.0, 12.0, 12.0, 11.5, 11.5, 7.4, 7.4, 7.4, 7.4];
const zhenjiangSimTroughs = [1.5, 2.9, 2.9, 2.9, 2.9, 2.9, 2.9, 2.5, 2.2, 1.6, 1.5, 1.5, 1.5, 1.5];
const zhenjiangSimStartEnd = [9.4, 5.3];

// ---------------- STYLE / LAYOUT ----------------
const FONT = "'Liberation Sans', Arial, Helvetica, sans-serif";
const SIM = "#b0587f";
const INK = "#231f20";
const N = 168;

const A_X0 = 114.5, A_X1 = 933.5, A_Y0 = 309, A_Y9 = 62;
const COLS = [85, 384, 687, 990];
const ROWS = [
  { title: 273, top: 278, zero: 371 },
  { title: 411, top: 407, zero: 501 },
  { title: 538, top: 546, zero: 628 },
  { title: 667, top: 673, zero: 762 },
];
const PW = 280;
const panelPlace = [
  [3, 0], [0, 1], [1, 1], [2, 1], [3, 1],
  [0, 2], [1, 2], [2, 2], [3, 2],
  [0, 3], [1, 3], [2, 3], [3, 3],
];

type Pt = { m: number; v: number };

function regularSim(peaks: number[], troughs: number[], se: number[]): Pt[] {
  const pts: Pt[] = [{ m: 0, v: se[0] }];
  peaks.forEach((p, y) => {
    pts.push({ m: 12 * y + 2, v: p });
    pts.push({ m: 12 * y + 8, v: troughs[y] });
  });
  pts.push({ m: N - 1, v: se[1] });
  return pts;
}

function xuzhouSim(): Pt[] {
  const leadMonths = [0, 3, 6.5, 9.5];
  const pts: Pt[] = xuzhouSimLead.map((v, i) => ({ m: leadMonths[i], v }));
  xuzhouSimPeaks.forEach((p, k) => {
    pts.push({ m: 12.5 + 6 * k, v: p });
    pts.push({ m: 15.5 + 6 * k, v: xuzhouSimTroughs[k] });
  });
  pts.push({ m: N - 0.5, v: xuzhouSimEnd });
  return pts;
}

const panelReported = [
  suqianReported, huaianReported, changzhouReported, nantongReported, yangzhouReported,
  lianyungangReported, nanjingReported, wuxiReported, xuzhouReported,
  suzhouReported, taizhouReported, yanchengReported, zhenjiangReported,
];
const panelSim: Pt[][] = [
  regularSim(suqianSimPeaks, suqianSimTroughs, suqianSimStartEnd),
  regularSim(huaianSimPeaks, huaianSimTroughs, huaianSimStartEnd),
  regularSim(changzhouSimPeaks, changzhouSimTroughs, changzhouSimStartEnd),
  regularSim(nantongSimPeaks, nantongSimTroughs, nantongSimStartEnd),
  regularSim(yangzhouSimPeaks, yangzhouSimTroughs, yangzhouSimStartEnd),
  regularSim(lianyungangSimPeaks, lianyungangSimTroughs, lianyungangSimStartEnd),
  regularSim(nanjingSimPeaks, nanjingSimTroughs, nanjingSimStartEnd),
  regularSim(wuxiSimPeaks, wuxiSimTroughs, wuxiSimStartEnd),
  xuzhouSim(),
  regularSim(suzhouSimPeaks, suzhouSimTroughs, suzhouSimStartEnd),
  regularSim(taizhouSimPeaks, taizhouSimTroughs, taizhouSimStartEnd),
  regularSim(yanchengSimPeaks, yanchengSimTroughs, yanchengSimStartEnd),
  regularSim(zhenjiangSimPeaks, zhenjiangSimTroughs, zhenjiangSimStartEnd),
];

function R2Text({ x, y, r2, size, anchor, gap, sep, ls }: any) {
  return (
    <text x={x} y={y} fontSize={size} textAnchor={anchor} fill={INK} fontFamily={FONT} letterSpacing={ls || 0} style={{ whiteSpace: "pre" }}>
      <tspan fontStyle="italic">R</tspan>
      <tspan fontSize={size * 0.42} dy={-size * 0.55}>2</tspan>
      <tspan dy={size * 0.55}>{` =${gap}${r2},${sep}`}</tspan>
      <tspan fontStyle="italic">P</tspan>
      <tspan>{" < 0.001"}</tspan>
    </text>
  );
}

function MainPanel() {
  const x = d3.scaleBand<number>().domain(d3.range(N)).range([A_X0, A_X1]).paddingInner(0.12).paddingOuter(0.04);
  const xl = d3.scaleLinear().domain([0, N]).range([A_X0, A_X1]);
  const y = d3.scaleLinear().domain([0, 9]).range([A_Y0, A_Y9]);
  const line = d3.line<number>().x((_, i) => xl(i + 0.5)).y((v) => y(v)).curve(d3.curveCatmullRom.alpha(0.5));
  const yearW = (A_X1 - A_X0) / years.length;
  return (
    <g>
      {mainReported.map((v, i) => (
        <rect key={i} x={x(i)} y={y(v)} width={x.bandwidth()} height={A_Y0 - y(v)} fill="url(#barGradA)" stroke="#6c86ab" strokeWidth={0.75} />
      ))}
      <path d={line(mainSimulated) || ""} fill="none" stroke={SIM} strokeWidth={4.5} strokeLinejoin="round" strokeLinecap="round" />
      <line x1={A_X0} x2={A_X0} y1={57} y2={A_Y0} stroke="#111" strokeWidth={1.5} />
      {mainYTicks.map((t) => (
        <text key={t} x={107} y={y(t) + 7} textAnchor="end" fontSize={20} fill={INK} fontFamily={FONT}>{t}</text>
      ))}
      <line x1={A_X0} x2={A_X1} y1={A_Y0} y2={A_Y0} stroke="#111" strokeWidth={2} />
      {d3.range(N + 1).map((i) => (
        <line key={i} x1={xl(i)} x2={xl(i)} y1={A_Y0} y2={A_Y0 + 5} stroke="#222" strokeWidth={0.9} />
      ))}
      {years.map((yr, k) => (
        <g key={yr}>
          {k > 0 && <line x1={A_X0 + k * yearW} x2={A_X0 + k * yearW} y1={A_Y0} y2={344} stroke="#222" strokeWidth={1} />}
          <text x={A_X0 + (k + 0.5) * yearW} y={335} textAnchor="middle" fontSize={18} fill={INK} fontFamily={FONT}>{yr}</text>
        </g>
      ))}
      <line x1={A_X0} x2={A_X0} y1={A_Y0} y2={375} stroke="#222" strokeWidth={1} />
      <line x1={A_X1} x2={A_X1} y1={A_Y0} y2={375} stroke="#222" strokeWidth={1} />
      <text x={(A_X0 + A_X1) / 2} y={366} textAnchor="middle" fontSize={22} fontWeight="bold" fill={INK} fontFamily={FONT} style={{ whiteSpace: "pre" }}>Time ( Month )</text>
      <text x={115} y={52} fontSize={28} fontWeight="bold" fill={INK} fontFamily={FONT} style={{ whiteSpace: "pre" }}>A. Jiangsu  Province</text>
      <R2Text x={692} y={54} r2="0.655" size={26} anchor="start" gap=" " sep=" " ls={0.9} />
      <text transform={`translate(50,${155}) rotate(-90)`} textAnchor="middle" fontSize={24} fontWeight="bold" fill={INK} fontFamily={FONT} letterSpacing={0.6}>Incidence</text>
      <text transform={`translate(79,${170}) rotate(-90)`} textAnchor="middle" fontSize={24} fontWeight="bold" fill={INK} fontFamily={FONT} letterSpacing={0.3}>(per 1,000,000 persons)</text>
      <rect x={961} y={67} width={72} height={21} fill="#dde8f5" stroke="#6d84a6" strokeWidth={2.8} />
      <text x={1049} y={86} fontSize={24} fontWeight="bold" fill="#2e2e2e" fontFamily={FONT} letterSpacing={0.4}>Reported Cases</text>
      <line x1={960} x2={1036} y1={113} y2={113} stroke={SIM} strokeWidth={4.5} />
      <text x={1049} y={121} fontSize={24} fontWeight="bold" fill="#2e2e2e" fontFamily={FONT} letterSpacing={0.4}>Simulated Cases</text>
    </g>
  );
}

function SmallPanel({ idx }: { idx: number }) {
  const [c, r] = panelPlace[idx];
  const row = ROWS[r];
  const x0 = COLS[c];
  const x1 = x0 + PW;
  const x = d3.scaleBand<number>().domain(d3.range(N)).range([x0, x1]).paddingInner(0.15);
  const xl = d3.scaleLinear().domain([0, N]).range([x0, x1]);
  const y = d3.scaleLinear().domain([0, panelYMax[idx]]).range([row.zero, row.top]);
  const line = d3.line<Pt>().x((d) => xl(d.m + 0.5)).y((d) => y(d.v)).curve(d3.curveMonotoneX);
  const yearW = PW / years.length;
  const gap = panelKeys[idx] === "E" ? "  " : " ";
  const r2End = c === 3 ? x1 + 11 : x1 + 3;
  return (
    <g>
      {panelReported[idx].map((v, i) => (
        <rect key={i} x={x(i)} y={y(v)} width={x.bandwidth()} height={row.zero - y(v)} fill="url(#barGradS)" />
      ))}
      <path d={line(panelSim[idx]) || ""} fill="none" stroke={SIM} strokeWidth={2.8} strokeLinejoin="round" />
      <line x1={x0} x2={x0} y1={row.top} y2={row.zero} stroke="#111" strokeWidth={1.3} />
      <line x1={x0} x2={x1} y1={row.zero} y2={row.zero} stroke="#222" strokeWidth={2} />
      <text transform={`translate(${x0 - 1},${row.top + 12}) scale(0.8,1)`} textAnchor="end" fontSize={19} fontWeight="bold" fill={INK} fontFamily={FONT}>{panelYMax[idx]}</text>
      <text transform={`translate(${x0 - 1},${row.zero + 5}) scale(0.8,1)`} textAnchor="end" fontSize={19} fontWeight="bold" fill={INK} fontFamily={FONT}>0</text>
      <text x={x0 + 1} y={row.title} fontSize={15} fontWeight="bold" fill={INK} fontFamily={FONT} letterSpacing={-0.3} style={{ whiteSpace: "pre" }}>{panelTitles[idx]}</text>
      <R2Text x={r2End} y={row.title} r2={panelR2[idx]} size={14} anchor="end" gap={gap} sep="  " />
      {r === 3 && (
        <g>
          {d3.range(years.length + 1).map((k) => (
            <line key={k} x1={x0 + k * yearW} x2={x0 + k * yearW} y1={row.zero} y2={row.zero + 7} stroke="#222" strokeWidth={1.3} />
          ))}
          {smallTickYears.map((yr) => (
            <text key={yr} x={x0 + (yr - 2005 + 0.5) * yearW} y={788} textAnchor="middle" fontSize={17} fill={INK} fontFamily={FONT}>{yr}</text>
          ))}
        </g>
      )}
    </g>
  );
}

function Caption() {
  const base = { fontSize: 16, fill: INK, fontFamily: "'Noto Sans', 'Open Sans', sans-serif" } as any;
  return (
    <g>
      <text x={19} y={856} {...base} style={{ whiteSpace: "pre", wordSpacing: "7.6px" }}>
        <tspan fontWeight="bold" fill="#1f3e6d">Fig. 4</tspan>
        <tspan>{" Simulated situation of hepatitis E incidence in Jiangsu Province and other cities during 2005–2018. "}</tspan>
        <tspan fontWeight="bold">A</tspan><tspan>{" Jiangsu Province; "}</tspan>
        <tspan fontWeight="bold">B</tspan><tspan>{" Suqian City; "}</tspan>
        <tspan fontWeight="bold">C</tspan>
      </text>
      <text x={19} y={882} {...base} style={{ whiteSpace: "pre", wordSpacing: "6.6px" }}>
        <tspan>{"Huaian City; "}</tspan>
        <tspan fontWeight="bold">D</tspan><tspan>{" Changzhou City; "}</tspan>
        <tspan fontWeight="bold">E</tspan><tspan>{" Nantong City; "}</tspan>
        <tspan fontWeight="bold">F</tspan><tspan>{" Yangzhou City; "}</tspan>
        <tspan fontWeight="bold">G</tspan><tspan>{" Lianyungang City; "}</tspan>
        <tspan fontWeight="bold">H</tspan><tspan>{" Nanjing City; "}</tspan>
        <tspan fontWeight="bold">I</tspan><tspan>{" Wuxi City; "}</tspan>
        <tspan fontWeight="bold">J</tspan><tspan>{" Xuzhou City; "}</tspan>
        <tspan fontWeight="bold">K</tspan><tspan>{" Suzhou City; "}</tspan>
        <tspan fontWeight="bold">L</tspan>
      </text>
      <text x={19} y={908} {...base} style={{ whiteSpace: "pre" }}>
        <tspan>{"Taizhou City; "}</tspan>
        <tspan fontWeight="bold">M</tspan><tspan>{" Yancheng City; "}</tspan>
        <tspan fontWeight="bold">N</tspan><tspan>{" Zhenjiang City"}</tspan>
      </text>
    </g>
  );
}

export default function App() {
  return (
    <svg width={1287} height={919} style={{ position: "absolute", left: 0, top: 0, background: "#fff" }}>
      <defs>
        <linearGradient id="barGradA" x1="0" y1="0" x2="0" y2="1">
          <stop offset="0" stopColor="#dde7f4" />
          <stop offset="0.1" stopColor="#bfcde2" />
          <stop offset="0.22" stopColor="#96aac7" />
          <stop offset="1" stopColor="#889dbd" />
        </linearGradient>
        <linearGradient id="barGradS" x1="0" y1="0" x2="0" y2="1">
          <stop offset="0" stopColor="#a9bbd5" />
          <stop offset="0.2" stopColor="#8fa5c4" />
          <stop offset="1" stopColor="#869cbd" />
        </linearGradient>
      </defs>
      <rect x={0} y={0} width={1287} height={919} fill="#fff" />
      <path d="M8.5,940 L8.5,28 Q8.5,8.5 28,8.5 L1300,8.5" fill="none" stroke="#b9b9b9" strokeWidth={1} />
      <MainPanel />
      {panelKeys.map((k, i) => (
        <SmallPanel key={k} idx={i} />
      ))}
      <text transform={`translate(54,${580}) rotate(-90)`} textAnchor="middle" fontSize={24} fontWeight="bold" fill={INK} fontFamily={FONT} letterSpacing={0.6}>Incidence( per 1,000,000 persons)</text>
      <text x={705} y={820} textAnchor="middle" fontSize={24} fontWeight="bold" fill={INK} fontFamily={FONT} style={{ whiteSpace: "pre" }}>Time ( Month )</text>
      <Caption />
    </svg>
  );
}
